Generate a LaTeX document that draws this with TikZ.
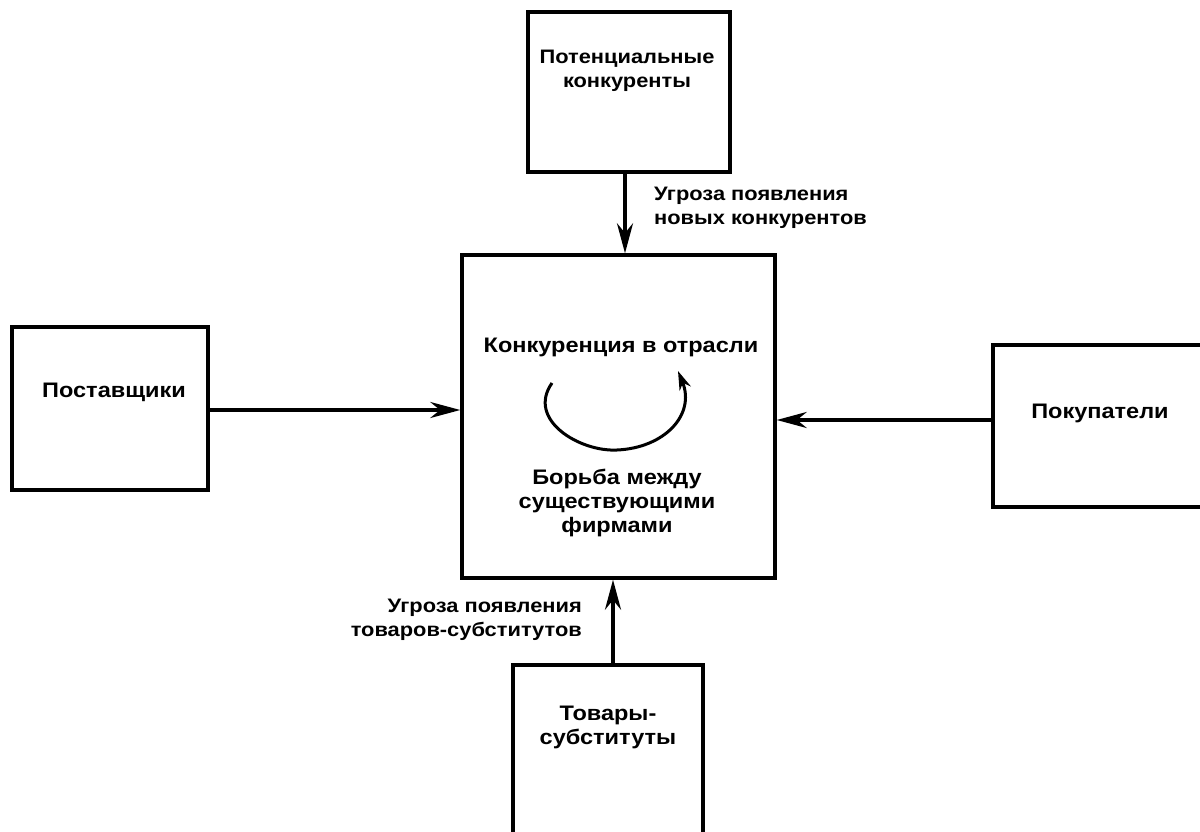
\documentclass[tikz,border=0pt]{standalone}
\usepackage{fontspec}
\setmainfont{Liberation Sans}[FakeStretch=1.12]
\usetikzlibrary{arrows.meta}
\begin{document}
\begin{tikzpicture}[x=1pt,y=-1pt,
  box/.style={draw, line width=3.4pt, inner sep=0pt},
  lbl/.style={font=\fontsize{21}{24}\selectfont\bfseries, align=center, inner sep=0pt},
  small/.style={font=\fontsize{19.5}{24}\selectfont\bfseries},
  conn/.style={line width=3.6pt, -{Stealth[length=30pt,width=16pt]}}]
\useasboundingbox (0,0) rectangle (1200,832);
\fill[white] (0,0) rectangle (1200,832);
\clip (0,0) rectangle (1200,832);
% boxes
\node[box, minimum width=202pt, minimum height=160pt] (pot) at (629,92) {};
\node[box, minimum width=313pt, minimum height=323pt] (comp) at (618.5,416.5) {};
\node[box, minimum width=196pt, minimum height=163pt] (post) at (110,408.5) {};
\node[box, minimum width=217pt, minimum height=162pt] (pok) at (1101.5,426) {};
\node[box, minimum width=190pt, minimum height=180pt] (tov) at (608,755) {};
% helper coordinates
\coordinate (tx) at (625,0);
\coordinate (ly) at (0,410);
\coordinate (ry) at (0,420);
\coordinate (bx) at (613,0);
% connectors
\draw[conn] (tx |- pot.south) -- (tx |- comp.north);
\draw[conn] (post.east |- ly) -- (comp.west |- ly);
\draw[conn] (pok.west |- ry) -- (comp.east |- ry);
\draw[conn] (bx |- tov.north) -- (bx |- comp.south);
% texts
\node[lbl, small] (tpot) at (627,71) {Потенциальные\\конкуренты};
\node[lbl, small, align=left, anchor=west] (tthreat1) at (654,208) {Угроза появления\\новых конкурентов};
\node[lbl] (tcomp) at (621,347) {Конкуренция в отрасли};
\node[lbl] (tfight) at (617,503) {Борьба между\\существующими\\фирмами};
\node[lbl] (tpost) at (114,392) {Поставщики};
\node[lbl] (tpok) at (1100,413) {Покупатели};
\node[lbl, small, align=right, anchor=east] (tthreat2) at (582,620) {Угроза появления\\товаров-субститутов};
\node[lbl] (ttov) at (608,727) {Товары-\\субституты};
% rivalry arc
\coordinate (a1) at (552,383);
\coordinate (a2) at (617,450);
\coordinate (a3) at (678,371);
\draw[line width=3pt, -{Stealth[length=19pt,width=12pt]}] (a1) .. controls (526,420) and (580,452) .. (a2) .. controls (664,448) and (696,415) .. (a3);
\end{tikzpicture}
\end{document}
